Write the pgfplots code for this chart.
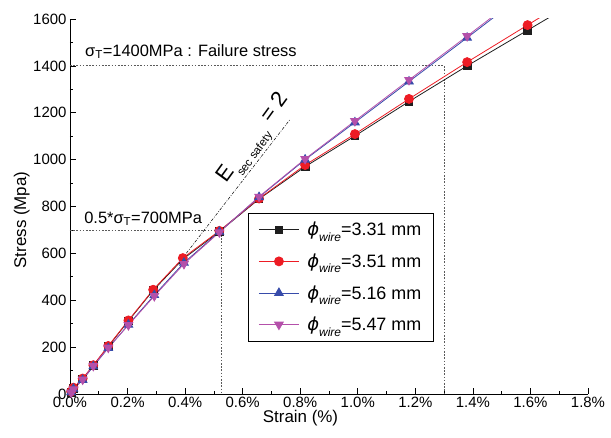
\documentclass[border=0pt]{standalone}
\usepackage{pgfplots}
\pgfplotsset{compat=1.18}
\usepackage{fontspec}
\setmainfont{Liberation Sans}
\newfontfamily\dvs{DejaVu Sans}
\definecolor{cblack}{RGB}{30,30,30}
\definecolor{cred}{RGB}{237,28,36}
\definecolor{cblue}{RGB}{55,75,170}
\definecolor{cpurple}{RGB}{180,80,170}
\definecolor{cdot}{RGB}{90,90,90}
\newcommand{\phiw}{{\dvs\itshape ϕ}\raisebox{-0.3em}{\fontsize{12}{14}\selectfont\itshape wire}}
\begin{document}
\begin{tikzpicture}
\begin{axis}[
  at={(0,0)}, anchor=south west,
  scale only axis, width=518bp, height=375bp,
  xmin=0, xmax=1.8, ymin=0, ymax=1600,
  axis x line*=bottom, axis y line*=left,
  axis line style={line width=0.8bp, black},
  tick align=inside,
  major tick length=6bp, minor tick length=3.5bp,
  every tick/.style={black, line width=0.7bp},
  xtick={0,0.2,0.4,0.6,0.8,1.0,1.2,1.4,1.6,1.8},
  ytick={0,200,400,600,800,1000,1200,1400,1600},
  minor x tick num=1, minor y tick num=1,
  xticklabel={\pgfmathprintnumber[fixed,fixed zerofill,precision=1]{\tick}\%},
  /pgf/number format/assume math mode=true,
  /pgf/number format/1000 sep={},
  tick label style={font=\fontsize{15}{18}\selectfont},
  xlabel={Strain (\%)}, ylabel={Stress (Mpa)},
  label style={font=\fontsize{17}{20}\selectfont},
  xlabel style={at={(axis description cs:0.445,-0.064)}, anchor=center},
  ylabel style={at={(axis description cs:-0.093,0.464)}, anchor=center},
  legend style={at={(rel axis cs:0.344,0.483)}, anchor=north west,
    draw=black, line width=0.7bp, fill=white,
    font=\fontsize{18}{21}\selectfont, row sep=12.5bp,
    inner xsep=10bp, inner ysep=7bp,
    /tikz/every odd column/.append style={column sep=6bp}},
  legend cell align=left,
  legend image code/.code={%
    \draw[#1, mark=none] (0bp,0bp) -- (40bp,0bp);
    \draw[#1, only marks] plot coordinates {(20bp,0bp)};},
  every axis plot/.append style={line width=0.8bp},
]
% reference lines
\addplot[forget plot, cdot, line width=0.8bp, dash pattern=on 1.6bp off 1.6bp] coordinates {(0,1400) (1.3,1400) (1.3,0)};
\addplot[forget plot, cdot, line width=0.8bp, dash pattern=on 1.6bp off 1.6bp] coordinates {(0,700) (0.527,700) (0.527,0)};
\addplot[forget plot, black, line width=0.5bp, dash pattern=on 3bp off 1.5bp on 0.8bp off 1.5bp] coordinates {(0.39,578) (0.765,1172)};

\addplot[cblack, mark=square*, mark size=3.8bp, mark options={fill=cblack, draw=cblack, solid}] coordinates {
(0.004,8) (0.012,25) (0.044,64) (0.081,121) (0.133,203) (0.203,312) (0.289,442) (0.392,575) (0.519,693) (0.657,832) (0.817,970) (0.99,1101) (1.178,1248) (1.38,1400) (1.59,1552) (1.79,1697)};
\addlegendentry{\phiw=3.31 mm}
\addplot[cred, mark=*, mark size=4.5bp, mark options={fill=cred, draw=cred, solid}] coordinates {
(0.004,10) (0.012,27) (0.044,66) (0.081,123) (0.133,205) (0.203,314) (0.289,445) (0.392,580) (0.519,696) (0.657,834) (0.817,977) (0.99,1109) (1.178,1259) (1.38,1416) (1.59,1574) (1.79,1725)};
\addlegendentry{\phiw=3.51 mm}
\addplot[cblue, mark=triangle*, mark size=5bp, mark options={fill=cblue, draw=cblue, solid}] coordinates {
(0.004,8) (0.012,22) (0.044,60) (0.081,118) (0.133,196) (0.203,296) (0.293,422) (0.396,560) (0.519,692) (0.657,840) (0.817,1000) (0.99,1159) (1.178,1333) (1.38,1520) (1.58,1708)};
\addlegendentry{\phiw=5.16 mm}
\addplot[cpurple, mark=triangle*, mark size=5bp, mark options={rotate=180, fill=cpurple, draw=cpurple, solid}] coordinates {
(0.004,6) (0.012,20) (0.044,62) (0.081,120) (0.133,198) (0.203,294) (0.293,418) (0.396,555) (0.519,690) (0.657,842) (0.817,1003) (0.99,1165) (1.178,1340) (1.38,1527) (1.58,1715)};
\addlegendentry{\phiw=5.47 mm}

\node[anchor=base west, font=\fontsize{16.5}{19}\selectfont, inner sep=0pt] at (axis cs:0.052,1442) {σ\textsubscript{T}=1400MPa : Failure stress};
\node[anchor=base west, font=\fontsize{16.5}{19}\selectfont, inner sep=0pt] at (axis cs:0.049,729) {0.5*σ\textsubscript{T}=700MPa};
\node[rotate=54, font=\fontsize{22}{24}\selectfont, inner sep=0pt] at (axis cs:0.646,1084) {E\raisebox{-0.4em}{\fontsize{11.5}{13}\selectfont sec safety}\,\,= 2};
\end{axis}
\pgfresetboundingbox
\path (-70bp,-44bp) rectangle (541bp,394bp);
\end{tikzpicture}
\end{document}
